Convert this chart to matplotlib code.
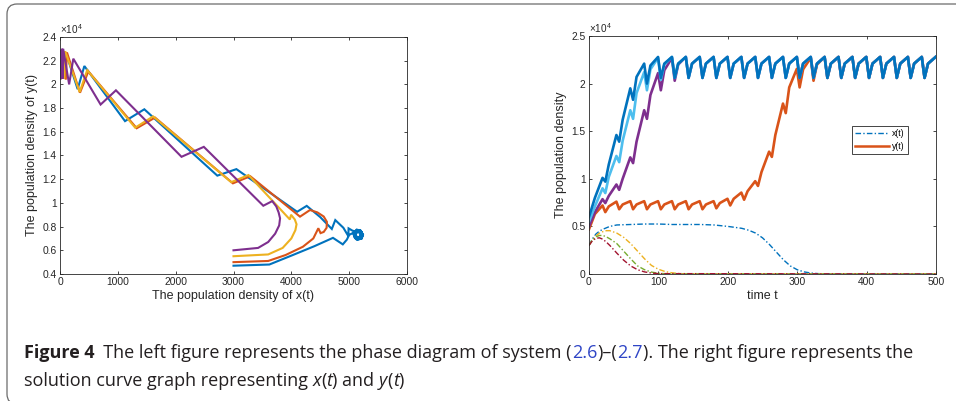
import matplotlib
matplotlib.use('Agg')
import matplotlib.pyplot as plt
from matplotlib.lines import Line2D
from matplotlib.patches import FancyBboxPatch
from matplotlib.ticker import FormatStrFormatter

plt.rcParams['font.family'] = ['Liberation Sans', 'DejaVu Sans']
plt.rcParams['mathtext.fontset'] = 'custom'
plt.rcParams['mathtext.rm'] = 'Liberation Sans'

# MATLAB default colour order
BLUE = '#0072BD'
ORANGE = '#D95319'
YELLOW = '#EDB120'
PURPLE = '#7E2F8E'
GREEN = '#77AC30'
LIGHTBLUE = '#4DBEEE'
DARKRED = '#A2142F'
INK = '#262626'

# ---------------- left panel: phase paths (x, y/1e4) ----------------
blue_px = [3000, 3620, 4000, 4400, 4720, 4890, 4960, 5000, 5060,
           5130, 5210, 5240, 5200, 5130, 5080, 5090, 5150, 5220, 5235, 5190, 5120, 5090, 5110, 5170, 5225, 5215, 5150,
           5110, 5130, 5185, 5205, 5175, 5125, 5105, 5140, 5190, 5200, 5160,
           5060, 4990, 4985, 4900, 4760, 4700, 4500, 4266, 4100, 3050, 2720, 1458, 1124, 421, 305,
           100, 75, 60, 48, 38, 28, 20, 14, 9, 5]
blue_py = [0.47, 0.48, 0.555, 0.635, 0.705, 0.65, 0.69, 0.73, 0.745,
           0.69, 0.70, 0.73, 0.765, 0.775, 0.75, 0.71, 0.69, 0.70, 0.735, 0.77, 0.765, 0.73, 0.70, 0.695, 0.72, 0.755, 0.76,
           0.74, 0.71, 0.705, 0.73, 0.755, 0.75, 0.725, 0.71, 0.715, 0.74, 0.755,
           0.765, 0.785, 0.72, 0.79, 0.855, 0.78, 0.88, 0.975, 0.925, 1.285, 1.23, 1.79, 1.69, 2.155, 1.96,
           2.27, 2.05, 2.28, 2.05, 2.28, 2.05, 2.28, 2.05, 2.28, 2.05]

orange_px = [3000, 3600, 3900, 4200, 4380, 4467, 4505, 4560, 4610, 4615, 4560, 4450, 4323, 4150, 3290, 2990,
             1643, 1326, 490, 346, 120, 100, 80, 66, 52, 42, 32, 24, 16, 10]
orange_py = [0.50, 0.51, 0.56, 0.63, 0.70, 0.786, 0.745, 0.755, 0.79, 0.84, 0.885, 0.92, 0.94, 0.884, 1.225, 1.165,
             1.72, 1.63, 2.11, 1.93, 2.27, 2.04, 2.28, 2.05, 2.28, 2.05, 2.28, 2.05, 2.28, 2.05]

yellow_px = [3000, 3600, 3850, 4000, 4070, 4090, 4060, 3995, 3975, 3260, 2960, 1610, 1300, 470, 340,
             90, 72, 58, 46, 36, 28, 20, 14, 8]
yellow_py = [0.55, 0.565, 0.62, 0.70, 0.77, 0.82, 0.86, 0.90, 0.86, 1.235, 1.175, 1.73, 1.635, 2.12, 1.935,
             2.28, 2.05, 2.28, 2.05, 2.28, 2.05, 2.28, 2.05, 2.28]

purple_px = [3000, 3425, 3600, 3720, 3790, 3805, 3780, 3740, 3670, 3515, 2487, 2101, 967, 702, 230, 158,
             55, 48, 42, 36, 31, 26, 22, 18, 15, 12, 9, 7, 5, 3, 2, 1]
purple_py = [0.60, 0.62, 0.67, 0.74, 0.81, 0.87, 0.92, 0.97, 1.015, 0.976, 1.473, 1.389, 1.95, 1.83, 2.217, 2.0,
             2.30, 2.05, 2.30, 2.05, 2.30, 2.05, 2.29, 2.05, 2.29, 2.05, 2.29, 2.05, 2.29, 2.05, 2.29, 2.05]

# ---------------- right panel: y(t) with impulses every 20 time units ----------------
impulse_t = [0, 20, 40, 60, 80, 100, 120, 140, 160, 180, 200, 220, 240,
             260, 280, 300, 320, 340, 360, 380, 400, 420, 440, 460, 480, 500]

# value just after each impulse, part way up, and just before the next impulse
ydb_low = [0.60, 0.97, 1.39, 1.83, 2.00, 2.06, 2.06, 2.06, 2.06, 2.06, 2.06, 2.06, 2.06,
           2.06, 2.06, 2.06, 2.06, 2.06, 2.06, 2.06, 2.06, 2.06, 2.06, 2.06, 2.06]
ydb_mid = [0.80, 1.15, 1.62, 2.07, 2.19, 2.21, 2.21, 2.21, 2.21, 2.21, 2.21, 2.21, 2.21,
           2.21, 2.21, 2.21, 2.21, 2.21, 2.21, 2.21, 2.21, 2.21, 2.21, 2.21, 2.21]
ydb_high = [1.01, 1.46, 1.95, 2.21, 2.28, 2.28, 2.28, 2.28, 2.28, 2.28, 2.28, 2.28, 2.28,
            2.28, 2.28, 2.28, 2.28, 2.28, 2.28, 2.28, 2.28, 2.28, 2.28, 2.28, 2.28]

ylb_low = [0.55, 0.85, 1.175, 1.63, 1.93, 2.04, 2.06, 2.06, 2.06, 2.06, 2.06, 2.06, 2.06,
           2.06, 2.06, 2.06, 2.06, 2.06, 2.06, 2.06, 2.06, 2.06, 2.06, 2.06, 2.06]
ylb_mid = [0.71, 1.02, 1.40, 1.90, 2.15, 2.20, 2.21, 2.21, 2.21, 2.21, 2.21, 2.21, 2.21,
           2.21, 2.21, 2.21, 2.21, 2.21, 2.21, 2.21, 2.21, 2.21, 2.21, 2.21, 2.21]
ylb_high = [0.90, 1.24, 1.72, 2.12, 2.27, 2.28, 2.28, 2.28, 2.28, 2.28, 2.28, 2.28, 2.28,
            2.28, 2.28, 2.28, 2.28, 2.28, 2.28, 2.28, 2.28, 2.28, 2.28, 2.28, 2.28]

ypu_low = [0.50, 0.745, 0.884, 1.165, 1.63, 1.93, 2.03, 2.06, 2.06, 2.06, 2.06, 2.06, 2.06,
           2.06, 2.06, 2.06, 2.06, 2.06, 2.06, 2.06, 2.06, 2.06, 2.06, 2.06, 2.06]
ypu_mid = [0.65, 0.82, 1.00, 1.39, 1.88, 2.14, 2.20, 2.21, 2.21, 2.21, 2.21, 2.21, 2.21,
           2.21, 2.21, 2.21, 2.21, 2.21, 2.21, 2.21, 2.21, 2.21, 2.21, 2.21, 2.21]
ypu_high = [0.786, 0.94, 1.225, 1.72, 2.11, 2.27, 2.28, 2.28, 2.28, 2.28, 2.28, 2.28, 2.28,
            2.28, 2.28, 2.28, 2.28, 2.28, 2.28, 2.28, 2.28, 2.28, 2.28, 2.28, 2.28]

yor_low = [0.47, 0.65, 0.68, 0.68, 0.68, 0.68, 0.68, 0.68, 0.68, 0.69, 0.72, 0.78, 0.925,
           1.23, 1.69, 1.96, 2.03, 2.06, 2.06, 2.06, 2.06, 2.06, 2.06, 2.06, 2.06]
yor_mid = [0.63, 0.71, 0.73, 0.73, 0.73, 0.73, 0.73, 0.73, 0.73, 0.745, 0.79, 0.87, 1.07,
           1.46, 1.96, 2.15, 2.20, 2.21, 2.21, 2.21, 2.21, 2.21, 2.21, 2.21, 2.21]
yor_high = [0.72, 0.76, 0.765, 0.765, 0.765, 0.765, 0.765, 0.765, 0.765, 0.79, 0.855, 0.975, 1.285,
            1.79, 2.155, 2.27, 2.28, 2.28, 2.28, 2.28, 2.28, 2.28, 2.28, 2.28, 2.28]

# ---------------- right panel: x(t), smooth ----------------
xb_t = [0, 5, 10, 15, 20, 30, 40, 60, 80, 100, 120, 140, 160, 180, 200, 220, 230, 240,
        250, 260, 270, 280, 290, 300, 310, 320, 330, 340, 360, 500]
xb_v = [0.30, 0.37, 0.42, 0.45, 0.47, 0.50, 0.515, 0.52, 0.525, 0.525, 0.52, 0.52, 0.52, 0.515, 0.50, 0.48, 0.46, 0.43,
        0.38, 0.31, 0.23, 0.15, 0.085, 0.045, 0.022, 0.01, 0.004, 0.002, 0.0, 0.0]

xy_t = [0, 5, 10, 15, 20, 25, 30, 40, 50, 60, 70, 80, 90, 100, 110, 120, 130, 140, 500]
xy_v = [0.30, 0.36, 0.40, 0.43, 0.445, 0.455, 0.455, 0.43, 0.385, 0.32, 0.24, 0.16, 0.09, 0.05,
        0.025, 0.012, 0.005, 0.001, 0.0]

xg_t = [0, 5, 10, 15, 20, 25, 30, 40, 50, 60, 70, 80, 90, 100, 110, 120, 500]
xg_v = [0.30, 0.36, 0.39, 0.405, 0.405, 0.39, 0.37, 0.32, 0.24, 0.16, 0.085, 0.045, 0.02, 0.008,
        0.003, 0.001, 0.0]

xr_t = [0, 5, 10, 15, 20, 25, 30, 35, 40, 50, 60, 70, 80, 90, 100, 500]
xr_v = [0.30, 0.35, 0.375, 0.38, 0.365, 0.335, 0.30, 0.26, 0.22, 0.145, 0.085, 0.045, 0.022, 0.01,
        0.004, 0.0]


def teeth(low, mid, high):
    """Polyline of an impulsive solution: quick drop at each impulse, then a rise."""
    t, v = [], []
    for k in range(len(low)):
        t0 = impulse_t[k]
        t += [t0 + (0 if k == 0 else 3.5), t0 + 8.5, impulse_t[k + 1] - 0.5]
        v += [low[k], mid[k], high[k]]
    return t, v


def style(ax):
    ax.tick_params(direction='in', length=2.5, width=0.6, top=True, right=True,
                   labelsize=7.4, colors=INK, pad=2.5)
    for s in ax.spines.values():
        s.set_linewidth(0.6)
        s.set_color(INK)
    ax.yaxis.set_major_formatter(FormatStrFormatter('%g'))
    ax.text(0.0, 1.004, r'$\times10^{4}$', transform=ax.transAxes, fontsize=7.2,
            ha='left', va='bottom', color=INK)


fig = plt.figure(figsize=(9.56, 4.01), dpi=100)
ax1 = fig.add_axes([60 / 956, 1 - 274 / 401, 347 / 956, 237 / 401])
ax2 = fig.add_axes([589 / 956, 1 - 274 / 401, 347 / 956, 238 / 401])

# left: phase diagram
for px, py, c in [(blue_px, blue_py, BLUE), (orange_px, orange_py, ORANGE),
                  (yellow_px, yellow_py, YELLOW), (purple_px, purple_py, PURPLE)]:
    ax1.plot(px, py, color=c, lw=1.5, solid_joinstyle='miter')
ax1.set_xlim(0, 6000)
ax1.set_ylim(0.4, 2.4)
ax1.set_xticks([0, 1000, 2000, 3000, 4000, 5000, 6000])
ax1.set_yticks([0.4, 0.6, 0.8, 1.0, 1.2, 1.4, 1.6, 1.8, 2.0, 2.2, 2.4])
style(ax1)
ax1.set_xlabel('The population density of x(t)', fontsize=9.0, color=INK, labelpad=2)
ax1.set_ylabel('The population density of y(t)', fontsize=9.0, color=INK, labelpad=3)

# right: solution curves
dash = (4, 1.6, 1, 1.6)
for tt, vv, c in [(xb_t, xb_v, BLUE), (xy_t, xy_v, YELLOW), (xg_t, xg_v, GREEN), (xr_t, xr_v, DARKRED)]:
    ax2.plot(tt, vv, color=c, lw=1.0, dashes=dash)
for lo, mi, hi, c in [(yor_low, yor_mid, yor_high, ORANGE), (ypu_low, ypu_mid, ypu_high, PURPLE),
                      (ylb_low, ylb_mid, ylb_high, LIGHTBLUE), (ydb_low, ydb_mid, ydb_high, BLUE)]:
    tt, vv = teeth(lo, mi, hi)
    ax2.plot(tt, vv, color=c, lw=1.9)
ax2.set_xlim(0, 500)
ax2.set_ylim(0, 2.5)
ax2.set_xticks([0, 100, 200, 300, 400, 500])
ax2.set_yticks([0, 0.5, 1, 1.5, 2, 2.5])
style(ax2)
ax2.set_xlabel('time t', fontsize=9.0, color=INK, labelpad=2)
ax2.set_ylabel('The population density', fontsize=9.0, color=INK, labelpad=3)

hx = Line2D([], [], color=BLUE, lw=1.0, dashes=dash)
hy = Line2D([], [], color=ORANGE, lw=1.8)
leg = ax2.legend([hx, hy], ['x(t)', 'y(t)'], loc='upper left', bbox_to_anchor=(0.758, 0.622),
                 fontsize=6.2, frameon=True, fancybox=False, edgecolor=INK, framealpha=1,
                 handlelength=3.9, handletextpad=0.35, borderpad=0.4, labelspacing=0.4,
                 borderaxespad=0)
leg.get_frame().set_linewidth(0.6)

# caption, built piece by piece so the equation numbers can be blue
CAP = ['Open Sans', 'DejaVu Sans']
CAP_FS = 13.0
LINK = '#2f45c6'


def caption_line(pieces, x, y):
    prev = fig.text(x, y, pieces[0][0], fontsize=CAP_FS, family=CAP, va='bottom', ha='left', **pieces[0][1])
    for text, kw in pieces[1:]:
        prev = ax1.annotate(text, xy=(1, 0), xycoords=prev, va='bottom', ha='left', fontsize=CAP_FS,
                            family=CAP, annotation_clip=False, **kw)


black = {'color': '#231f20'}
caption_line([('Figure 4', {'color': '#231f20', 'weight': 'bold'}),
              ('  The left figure represents the phase diagram of system (', black),
              ('2.6', {'color': LINK}),
              (')\u2013(', black),
              ('2.7', {'color': LINK}),
              ('). The right figure represents the', black)],
             24 / 956, 1 - 362 / 401)
caption_line([('solution curve graph representing ', black),
              ('x', {'color': '#231f20', 'style': 'italic'}),
              ('(', black),
              ('t', {'color': '#231f20', 'style': 'italic'}),
              (') and ', black),
              ('y', {'color': '#231f20', 'style': 'italic'}),
              ('(', black),
              ('t', {'color': '#231f20', 'style': 'italic'}),
              (')', black)],
             24 / 956, 1 - 390 / 401)

# rounded frame around the figure (only top and left edges fall inside the image)
frame = FancyBboxPatch((0.07, -0.03), 10.0, 4.0, boxstyle='round,pad=0,rounding_size=0.1',
                       transform=fig.dpi_scale_trans, fill=False, edgecolor='#6b6b6b', linewidth=0.9)
fig.add_artist(frame)

fig.savefig('out.png', dpi=100)
